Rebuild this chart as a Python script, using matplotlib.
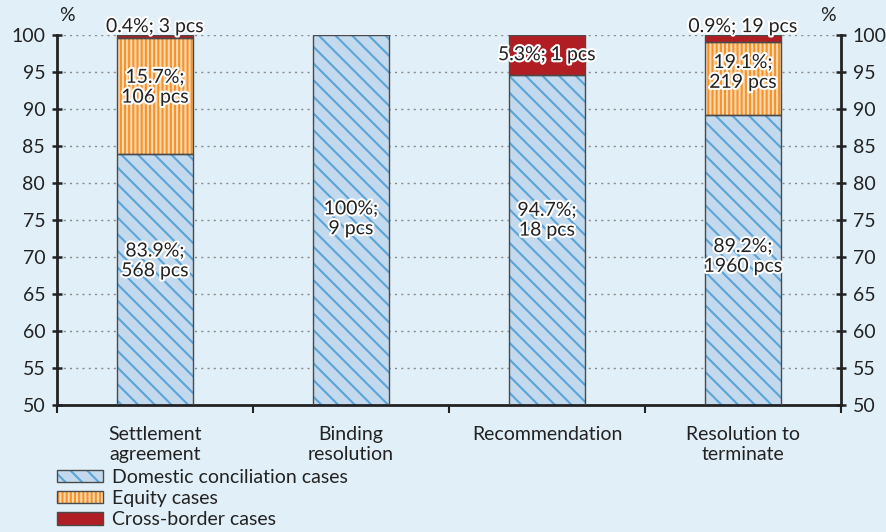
import numpy as np
import matplotlib
matplotlib.use("Agg")
import matplotlib.pyplot as plt
import matplotlib.patheffects as pe
from matplotlib.patches import Patch

# data (share of cases, %)
categories = ["Settlement\nagreement", "Binding\nresolution", "Recommendation", "Resolution to\nterminate"]
domestic = [83.9, 100.0, 94.7, 89.2]
equity = [15.7, 0.0, 0.0, 9.9]
cross_border = [0.4, 0.0, 5.3, 0.9]

domestic_labels = ["83.9%;\n568 pcs", "100%;\n9 pcs", "94.7%;\n18 pcs", "89.2%;\n1960 pcs"]
equity_labels = ["15.7%;\n106 pcs", "", "", "19.1%;\n219 pcs"]
cross_labels = ["0.4%; 3 pcs", "", "5.3%; 1 pcs", "0.9%; 19 pcs"]

yticks = [50, 55, 60, 65, 70, 75, 80, 85, 90, 95, 100]

bg = "#E1EFF8"
fs = 14
plt.rcParams['font.family'] = ['Lato', 'DejaVu Sans']
plt.rcParams['font.size'] = fs
plt.rcParams['hatch.linewidth'] = 1.5

fig = plt.figure(figsize=(8.87, 5.32), dpi=100, facecolor=bg)
ax = fig.add_axes([0.0643, 0.2387, 0.8838, 0.6946])
ax.set_facecolor(bg)

x = np.arange(len(categories))
w = 0.39
dom = np.array(domestic)
eq = np.array(equity)
cb = np.array(cross_border)

def draw_segment(vals, bottom, face, hatch_col, hatch):
    m = vals > 0
    ax.bar(x[m], vals[m], w, bottom=bottom[m], color=face, edgecolor=hatch_col,
           hatch=hatch, linewidth=0, zorder=2)
    ax.bar(x[m], vals[m], w, bottom=bottom[m], color="none", edgecolor="#4a4a4a",
           linewidth=1.0, zorder=3)

# two backslashes -> ~15 px line spacing like the original
draw_segment(dom, np.zeros(len(dom)), "#C3DAEE", "#5AA4D8", "\\\\")
draw_segment(eq, dom, "#F5922A", "#FBD9B0", "||||")
draw_segment(cb, dom + eq, "#B01E23", "#B01E23", None)

stroke = [pe.withStroke(linewidth=3, foreground="white")]
dom_label_y = [69.5, 75.2, 75.0, 70.1]
eq_label_y = [93.0, 0, 0, 95.0]
cross_label_y = [101.2, 0, 97.4, 101.2]
for i in range(len(categories)):
    ax.text(x[i], dom_label_y[i], domestic_labels[i], ha="center", va="center",
            color="#222222", path_effects=stroke, zorder=5, linespacing=1.2)
    if equity_labels[i]:
        ax.text(x[i], eq_label_y[i], equity_labels[i], ha="center", va="center",
                color="#222222", path_effects=stroke, zorder=5, linespacing=1.2)
    if cross_labels[i]:
        ax.text(x[i], cross_label_y[i], cross_labels[i], ha="center", va="center",
                color="#222222", path_effects=stroke, zorder=5, clip_on=False)

ax.set_xlim(-0.5, 3.5)
ax.set_ylim(50, 100)
ax.set_yticks(yticks)
ax.yaxis.grid(True, linestyle=(0, (1.5, 3)), color="#8a8a8a", linewidth=1.0, zorder=0)
ax.set_axisbelow(True)

ax.set_xticks(x)
ax.set_xticklabels(categories, linespacing=1.2)
ax.set_xticks(np.arange(-0.5, 4, 1), minor=True)
ax.tick_params(axis="x", which="major", length=0, pad=15, labelsize=fs, colors="#222222")
ax.tick_params(axis="x", which="minor", direction="out", length=6, width=1.5, color="#222222")
ax.tick_params(axis="y", which="major", direction="inout", length=7, width=1.8,
               left=True, right=True, labelleft=True, labelright=True, pad=5,
               labelsize=fs, colors="#222222")

for s in ["left", "right", "bottom"]:
    ax.spines[s].set_linewidth(2)
    ax.spines[s].set_color("#222222")
ax.spines["top"].set_visible(False)

ax.text(0.012, 1.055, "%", transform=ax.transAxes, ha="center", va="center", fontsize=fs, color="#222222")
ax.text(0.983, 1.055, "%", transform=ax.transAxes, ha="center", va="center", fontsize=fs, color="#222222")

handles = [
    Patch(facecolor="#C3DAEE", edgecolor="#5AA4D8", hatch="\\\\", linewidth=0),
    Patch(facecolor="#F5922A", edgecolor="#FBD9B0", hatch="||||", linewidth=0),
    Patch(facecolor="#B01E23", edgecolor="#B01E23", linewidth=0),
]
outline = [Patch(facecolor="none", edgecolor="#4a4a4a", linewidth=1.0) for _ in range(3)]
fig.legend([(h, o) for h, o in zip(handles, outline)],
           ["Domestic conciliation cases", "Equity cases", "Cross-border cases"],
           loc="upper left", bbox_to_anchor=(0.064, 0.119), frameon=False,
           handlelength=2.4, handleheight=0.62, handletextpad=0.45,
           labelspacing=0.22, borderpad=0, borderaxespad=0, fontsize=fs,
           labelcolor="#222222")

fig.savefig("out.png", dpi=100, facecolor=bg)
